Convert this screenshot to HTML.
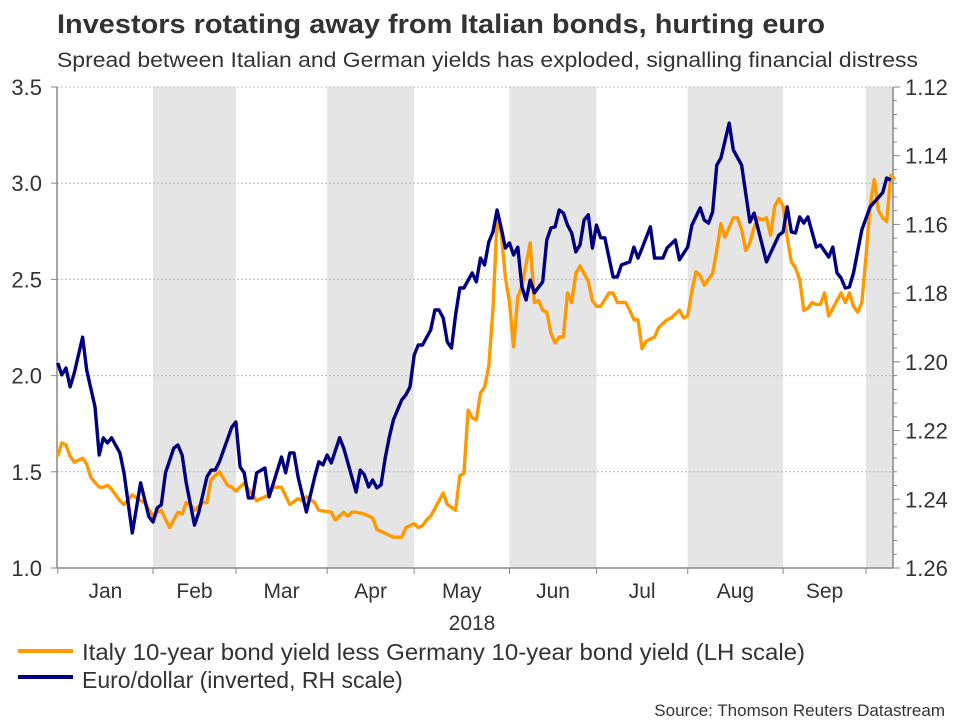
<!DOCTYPE html>
<html><head><meta charset="utf-8"><style>
body{margin:0;background:#fff;}
svg{display:block;font-family:"Liberation Sans",Arial,sans-serif;}
</style></head><body>
<svg id="chart" width="960" height="720" viewBox="0 0 960 720">
<text x="57" y="33" font-size="27" font-weight="bold" fill="#333" textLength="768" lengthAdjust="spacingAndGlyphs">Investors rotating away from Italian bonds, hurting euro</text>
<text x="57" y="67" font-size="21" fill="#333" textLength="861" lengthAdjust="spacingAndGlyphs">Spread between Italian and German yields has exploded, signalling financial distress</text>
<g id="bands"></g><g id="grid"></g><g id="axes"></g><g id="series"></g>
<text x="472" y="630" font-size="21" text-anchor="middle" fill="#333">2018</text>
<line x1="18" y1="651" x2="73" y2="651" stroke="#FF9900" stroke-width="4"/>
<text x="82" y="660" font-size="23" fill="#333" textLength="723" lengthAdjust="spacingAndGlyphs">Italy 10-year bond yield less Germany 10-year bond yield (LH scale)</text>
<line x1="18" y1="677" x2="73" y2="677" stroke="#000080" stroke-width="4"/>
<text x="82" y="688" font-size="23" fill="#333">Euro/dollar (inverted, RH scale)</text>
<text x="945" y="716" font-size="17" text-anchor="end" fill="#333">Source: Thomson Reuters Datastream</text>
</svg>
<script>
const months = ["Jan","Feb","Mar","Apr","May","Jun","Jul","Aug","Sep"];
const monthStart = [0,23,43,65,86,109,130,152,175,195];
const leftTicks = [1.0,1.5,2.0,2.5,3.0,3.5];
const rightTicks = [1.12,1.14,1.16,1.18,1.20,1.22,1.24,1.26];
const spreadDays = [0,1,2,3,4,6,7,8,10,11,12,13,15,16,18,20,21,23,24,25,27,28,29,30,31,32,33,35,36,37,39,41,42,43,45,46,48,49,51,52,54,56,58,59,60,62,63,66,67,69,70,71,72,74,76,77,78,81,83,84,86,87,88,89,90,91,93,94,96,97,98,99,100,101,102,103,104,105,106,107,108,109,110,111,112,113,114,115,116,117,118,119,120,121,122,123,124,125,126,128,129,130,131,133,134,135,137,138,139,140,141,142,144,145,147,148,150,151,152,153,154,155,156,157,158,159,160,161,162,163,164,165,166,167,168,169,170,171,172,173,174,175,176,177,178,179,180,181,182,183,184,185,186,188,189,190,191,192,193,194,195,196,197,198,199,200,201,202];
const spread = [1.58,1.65,1.64,1.58,1.55,1.57,1.54,1.47,1.42,1.42,1.43,1.41,1.35,1.33,1.38,1.35,1.34,1.27,1.29,1.30,1.21,1.25,1.29,1.28,1.34,1.33,1.30,1.34,1.34,1.46,1.50,1.43,1.42,1.40,1.44,1.41,1.35,1.36,1.38,1.42,1.42,1.33,1.36,1.35,1.37,1.34,1.30,1.29,1.25,1.29,1.27,1.29,1.29,1.28,1.26,1.20,1.19,1.16,1.16,1.21,1.23,1.21,1.22,1.25,1.27,1.31,1.39,1.33,1.30,1.48,1.49,1.82,1.78,1.77,1.91,1.94,2.05,2.34,2.81,2.74,2.51,2.38,2.15,2.41,2.46,2.58,2.69,2.38,2.39,2.34,2.33,2.22,2.17,2.20,2.20,2.43,2.38,2.53,2.57,2.49,2.39,2.36,2.36,2.43,2.43,2.38,2.38,2.34,2.29,2.29,2.14,2.18,2.20,2.25,2.29,2.30,2.34,2.30,2.31,2.44,2.54,2.52,2.47,2.50,2.53,2.65,2.79,2.72,2.77,2.82,2.82,2.76,2.65,2.69,2.77,2.82,2.81,2.82,2.73,2.88,2.92,2.88,2.72,2.59,2.56,2.50,2.34,2.35,2.38,2.37,2.37,2.43,2.31,2.39,2.43,2.38,2.43,2.36,2.33,2.38,2.62,2.88,3.02,2.86,2.82,2.80,3.04,3.02];
const eurDays = [0,1,2,3,4,6,7,9,10,11,12,13,15,16,18,20,22,23,24,25,26,28,29,30,31,33,34,36,37,38,39,42,43,44,45,46,47,48,50,51,54,55,56,57,58,60,62,63,64,65,66,68,69,72,73,74,75,76,77,78,79,80,81,83,84,85,86,87,88,90,91,92,93,94,95,96,97,98,100,101,102,103,104,105,106,107,108,109,110,111,112,113,114,115,117,118,119,120,121,122,123,124,125,126,127,128,129,130,131,132,134,135,136,138,139,140,141,143,144,146,147,149,150,152,153,155,156,157,158,159,160,162,163,165,167,168,171,172,174,175,176,177,178,179,180,181,183,184,186,187,188,189,190,191,192,194,196,199,200,201];
const eurusd = [1.2003,1.2038,1.2018,1.2073,1.2032,1.1928,1.2024,1.2131,1.2271,1.2221,1.2236,1.2221,1.2265,1.2323,1.2498,1.2352,1.2451,1.2466,1.2425,1.2416,1.2323,1.2251,1.2242,1.2271,1.2352,1.2475,1.2440,1.2335,1.2315,1.2315,1.2291,1.2190,1.2175,1.2306,1.2323,1.2396,1.2396,1.2323,1.2309,1.2393,1.2277,1.2323,1.2265,1.2265,1.2335,1.2437,1.2335,1.2291,1.2300,1.2271,1.2294,1.2221,1.2251,1.2379,1.2315,1.2329,1.2364,1.2344,1.2367,1.2358,1.2280,1.2219,1.2169,1.2111,1.2096,1.2073,1.1980,1.1951,1.1951,1.1907,1.1849,1.1849,1.1872,1.1942,1.1960,1.1863,1.1785,1.1785,1.1741,1.1767,1.1698,1.1718,1.1651,1.1622,1.1558,1.1610,1.1669,1.1654,1.1689,1.1666,1.1782,1.1820,1.1762,1.1799,1.1767,1.1645,1.1610,1.1607,1.1558,1.1567,1.1602,1.1625,1.1680,1.1660,1.1587,1.1572,1.1669,1.1602,1.1639,1.1639,1.1753,1.1753,1.1718,1.1709,1.1666,1.1698,1.1669,1.1607,1.1698,1.1698,1.1669,1.1645,1.1703,1.1666,1.1602,1.1552,1.1587,1.1596,1.1564,1.1427,1.1407,1.1305,1.1383,1.1427,1.1593,1.1567,1.1709,1.1683,1.1631,1.1622,1.1549,1.1622,1.1625,1.1578,1.1596,1.1578,1.1666,1.1660,1.1695,1.1666,1.1741,1.1756,1.1785,1.1782,1.1741,1.1616,1.1549,1.1508,1.1465,1.1471];

const NS="http://www.w3.org/2000/svg";
const X0=57, X1=893, Y0=568, Y1=87;
const xDay = d => 57.7 + d*4.145;
const yL = v => Y0 - (v-1.0)/(3.5-1.0)*(Y0-Y1);
const yR = v => Y1 + (v-1.12)/(1.26-1.12)*(Y0-Y1);
function mk(tag, attrs, parent){const e=document.createElementNS(NS,tag);for(const k in attrs)e.setAttribute(k,attrs[k]);document.getElementById(parent).appendChild(e);return e;}

for(let m=1;m<monthStart.length;m+=2){
  const xa=xDay(monthStart[m]);
  const xb=m+1<monthStart.length?xDay(monthStart[m+1]):X1;
  const r=mk('rect',{x:xa,y:Y1,width:Math.min(xb,X1)-xa,height:Y0-Y1,fill:'#e5e5e5'},'bands');
  
  
}
leftTicks.forEach(v=>{
  const y=yL(v);
  if(v>1.0&&v<=3.5){const g=mk('line',{x1:X0,x2:X1,y1:y,y2:y,stroke:'#bbb','stroke-width':1,'stroke-dasharray':'2,2'},'grid');
    
    }
  mk('line',{x1:X0-6,x2:X0,y1:y,y2:y,stroke:'#888'},'axes');
  const t=mk('text',{x:X0-15,y:y+8,'font-size':22,'text-anchor':'end',fill:'#333'},'axes');
  t.textContent=v.toFixed(1);
  
  
});
rightTicks.forEach((v,i)=>{
  const y=yR(v);
  mk('line',{x1:X1,x2:X1+7,y1:y,y2:y,stroke:'#888'},'axes');
  if(i<rightTicks.length-1){for(let k=1;k<5;k++){const ym=yR(v+0.004*k);mk('line',{x1:X1,x2:X1+4,y1:ym,y2:ym,stroke:'#888'},'axes');}}
  const t=mk('text',{x:X1+12,y:y+8,'font-size':22,fill:'#333'},'axes');
  t.textContent=v.toFixed(2);
  
  
});
[[X0,Y1,X0,Y0],[X1,Y1,X1,Y0],[X0,Y0,X1,Y0]].forEach(a=>{
  const l=mk('line',{x1:a[0],y1:a[1],x2:a[2],y2:a[3],stroke:'#888','stroke-width':1.5},'axes');
  
  
});
monthStart.forEach((d,i)=>{
  const x=xDay(d);
  mk('line',{x1:x,x2:x,y1:Y0,y2:Y0+6,stroke:'#888'},'axes');
  if(i<months.length){
    const t=mk('text',{x:(x+xDay(monthStart[i+1]))/2,y:598,'font-size':21,'text-anchor':'middle',fill:'#333'},'axes');
    t.textContent=months[i];
    
    
  }
});
const p1=mk('path',{d:spreadDays.map((d,i)=>(i?'L':'M')+xDay(d).toFixed(1)+','+yL(spread[i]).toFixed(1)).join(''),fill:'none',stroke:'#FF9900','stroke-width':3.4,'stroke-linejoin':'round'},'series');


const p2=mk('path',{d:eurDays.map((d,i)=>(i?'L':'M')+xDay(d).toFixed(1)+','+yR(eurusd[i]).toFixed(1)).join(''),fill:'none',stroke:'#000080','stroke-width':3.4,'stroke-linejoin':'round'},'series');


</script>
</body></html>
